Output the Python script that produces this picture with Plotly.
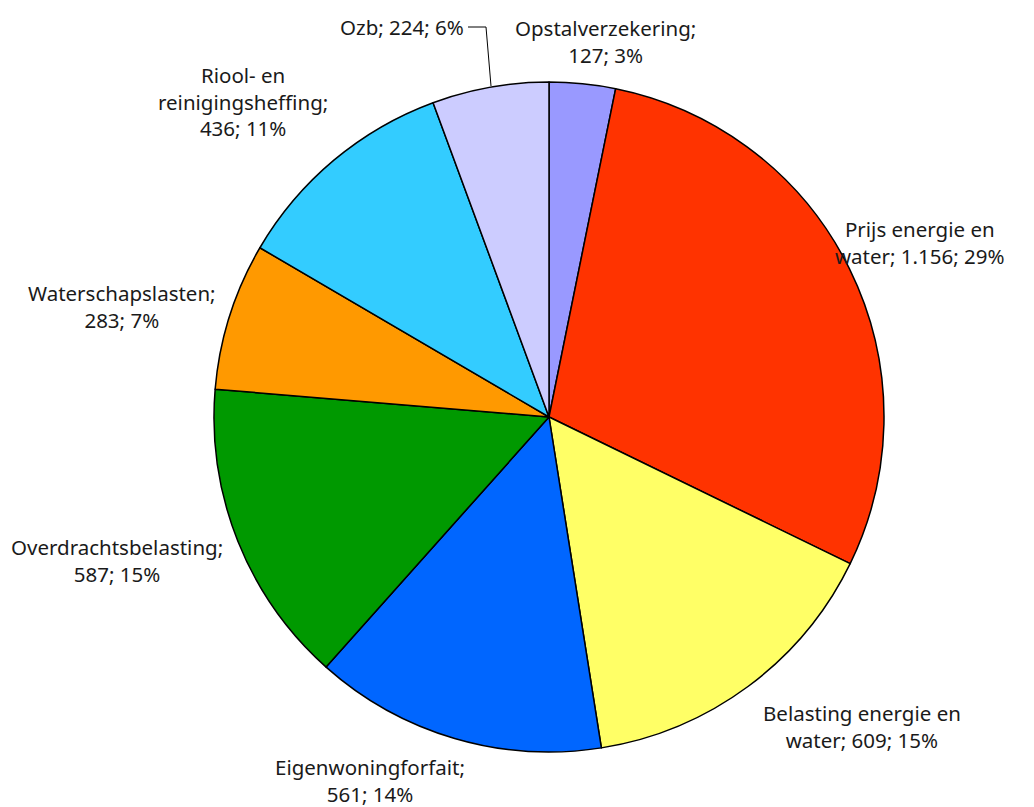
import plotly.graph_objects as go

labels = ["Opstalverzekering", "Prijs energie en water", "Belasting energie en water",
          "Eigenwoningforfait", "Overdrachtsbelasting", "Waterschapslasten",
          "Riool- en reinigingsheffing", "Ozb"]
values = [127, 1156, 609, 561, 587, 283, 436, 224]
percents = ["3%", "29%", "15%", "14%", "15%", "7%", "11%", "6%"]
value_text = ["127", "1.156", "609", "561", "587", "283", "436", "224"]
colors = ["#9999FF", "#FF3300", "#FFFF66", "#0066FF", "#009900", "#FF9900", "#33CCFF", "#CCCCFF"]

W, H = 1034, 807
OFF = 8  # page offset of the plot div
cx, cy, r = 549, 417, 335

def px(x):
    return (x - OFF) / W

def py(y):
    return (H - (y - OFF)) / H

fig = go.Figure(go.Pie(
    labels=labels, values=values, sort=False, direction="clockwise", rotation=0,
    marker=dict(colors=colors, line=dict(color="black", width=1.5)),
    textinfo="none", hoverinfo="label+value+percent",
    domain=dict(x=[px(cx - r), px(cx + r)], y=[py(cy + r), py(cy - r)]),
    showlegend=False,
))

label_text = [
    "Opstalverzekering;<br>127; 3%",
    "Prijs energie en<br>water; 1.156; 29%",
    "Belasting energie en<br>water; 609; 15%",
    "Eigenwoningforfait;<br>561; 14%",
    "Overdrachtsbelasting;<br>587; 15%",
    "Waterschapslasten;<br>283; 7%",
    "Riool- en<br>reinigingsheffing;<br>436; 11%",
    "Ozb; 224; 6%",
]
# label anchor positions (pixels): center x, center y, xanchor
label_pos = [
    (605, 41, "center"),
    (920, 242, "center"),
    (862, 726, "center"),
    (370, 780, "center"),
    (117, 560, "center"),
    (122, 306, "center"),
    (243, 101, "center"),
    (466, 27, "right"),
]

annotations = []
for t, (x, y, xa) in zip(label_text, label_pos):
    annotations.append(dict(
        text=t, x=px(x), y=py(y), xref="paper", yref="paper",
        xanchor=xa, yanchor="middle", showarrow=False, align="center",
        font=dict(family="Noto Sans", size=20.5, color="#1a1a1a"),
    ))

fig.update_layout(
    width=W, height=H,
    margin=dict(l=0, r=0, t=0, b=0),
    paper_bgcolor="white", plot_bgcolor="white",
    annotations=annotations,
    shapes=[dict(type="path", xref="paper", yref="paper",
                 path=f"M {px(468)} {py(27)} L {px(486)} {py(27)} L {px(491)} {py(86)}",
                 line=dict(color="black", width=1))],
)

fig.write_html("out.html")
